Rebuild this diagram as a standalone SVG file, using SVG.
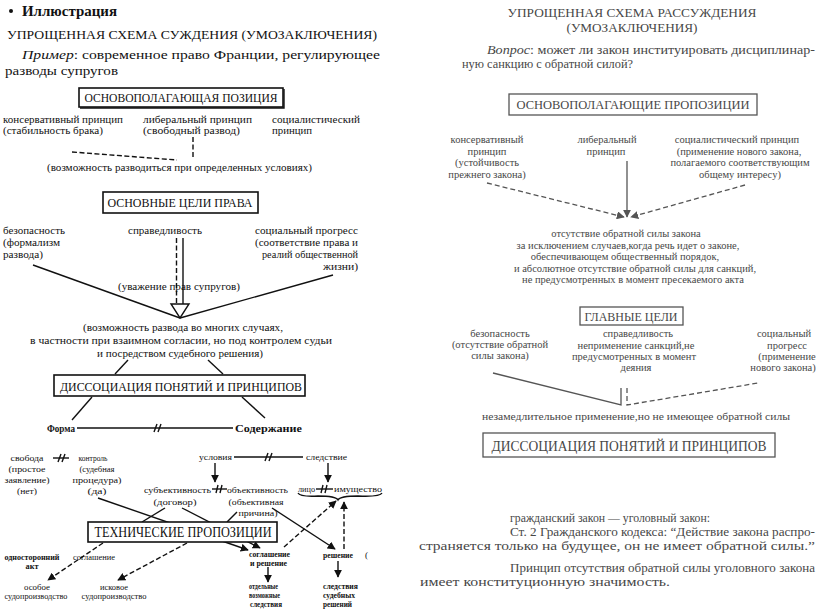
<svg xmlns="http://www.w3.org/2000/svg" width="821" height="613" viewBox="0 0 821 613" font-family="'Liberation Serif', 'Times New Roman', serif">
<defs>
<style>
text{font-family:'Liberation Serif','Times New Roman',serif;fill:#111}
.s{font-size:10px}
.xs{font-size:9px}
.b{font-weight:bold}
.r text{fill:#474747}
.rt{font-size:10.5px}
.c{text-anchor:middle}
.e{text-anchor:end}
.ln{stroke:#111;stroke-width:1.4;fill:none}
.dl{stroke:#111;stroke-width:1.4;fill:none;stroke-dasharray:5 2.5}
.rl{stroke:#555;stroke-width:1.3;fill:none}
.rd{stroke:#555;stroke-width:1.3;fill:none;stroke-dasharray:5 3}
.box{fill:#fff;stroke:#111;stroke-width:1.6}
.rbox{fill:#fff;stroke:#555;stroke-width:1.3}
</style>
<marker id="a" viewBox="0 0 10 10" refX="9" refY="5" markerWidth="8" markerHeight="8" markerUnits="userSpaceOnUse" orient="auto"><path d="M0,0 L10,5 L0,10 z" fill="#111"/></marker>
<marker id="ag" viewBox="0 0 10 10" refX="9" refY="5" markerWidth="8" markerHeight="8" markerUnits="userSpaceOnUse" orient="auto"><path d="M0,0 L10,5 L0,10 z" fill="#555"/></marker>
</defs>
<rect width="821" height="613" fill="#fff"/>

<!-- LEFT PANEL -->
<g id="left-header">
<circle cx="11" cy="11" r="2" fill="#111"/>
<text x="22" y="16" font-size="15" class="b" textLength="95" lengthAdjust="spacingAndGlyphs">Иллюстрация</text>
<text x="7" y="39" font-size="13" textLength="370" lengthAdjust="spacingAndGlyphs">УПРОЩЕННАЯ СХЕМА СУЖДЕНИЯ (УМОЗАКЛЮЧЕНИЯ)</text>
<text x="22" y="59" font-size="13" textLength="358" lengthAdjust="spacingAndGlyphs"><tspan font-style="italic">Пример</tspan>: современное право Франции, регулирующее</text>
<text x="5" y="75" font-size="13" textLength="113" lengthAdjust="spacingAndGlyphs">разводы супругов</text>
</g>

<g id="connectors-left">
<line class="dl" x1="72" y1="152" x2="177" y2="160"/>
<line class="dl" x1="193" y1="137" x2="193" y2="157"/>
<line class="ln" x1="33" y1="265" x2="180" y2="318"/>
<line class="ln" x1="333" y1="275" x2="180" y2="318"/>
<line class="dl" x1="176.5" y1="238" x2="176.5" y2="304"/>
<line class="ln" x1="183" y1="238" x2="183" y2="304"/>
<path class="ln" d="M171,304 L189,304 L180,318 Z" fill="#fff"/>
<line class="ln" x1="128" y1="360" x2="115" y2="374"/>
<line class="ln" x1="208" y1="360" x2="223" y2="374"/>
<line class="ln" x1="92" y1="397" x2="72" y2="420"/>
<line class="ln" x1="242" y1="397" x2="265" y2="418"/>
<line class="ln" x1="77" y1="428" x2="233" y2="428"/>
<path class="ln" d="M154,432 L157,424 M158,432 L161,424"/>
<line class="ln" x1="53" y1="458" x2="69" y2="458"/>
<path class="ln" d="M58,462 L61,454 M62,462 L65,454"/>
<line class="ln" x1="234" y1="457" x2="303" y2="457"/>
<path class="ln" d="M265,461 L268,453 M269,461 L272,453"/>
<line class="ln" x1="215" y1="463" x2="215" y2="482" marker-end="url(#a)"/>
<line class="ln" x1="328" y1="463" x2="328" y2="482" marker-end="url(#a)"/>
<line class="ln" x1="212" y1="489" x2="227" y2="489"/>
<path class="ln" d="M216,493 L218,485 M220,493 L222,485"/>
<line class="ln" x1="316" y1="489" x2="333" y2="489"/>
<path class="ln" d="M321,493 L323,485 M325,493 L327,485"/>
<path class="ln" stroke-width="1.1" d="M298,493 Q300,497 318,496 Q336,496 338,500 Q340,496 358,496 Q380,497 382,493"/>
<line class="ln" x1="98" y1="498" x2="248" y2="550" marker-end="url(#a)"/>
<line class="ln" x1="182" y1="508" x2="260" y2="548" marker-end="url(#a)"/>
<line class="ln" x1="165" y1="508" x2="142" y2="522"/>
<line class="ln" x1="237" y1="512" x2="227" y2="522"/>
<line class="dl" x1="103" y1="543" x2="48" y2="580" marker-end="url(#a)"/>
<line class="dl" x1="187" y1="543" x2="118" y2="580" marker-end="url(#a)"/>
<line class="ln" x1="272" y1="508" x2="335" y2="549" marker-end="url(#a)"/>
<line class="dl" x1="284" y1="547" x2="336" y2="501" marker-end="url(#a)"/>
<line class="dl" x1="344" y1="549" x2="344" y2="502" marker-end="url(#a)"/>
<line class="ln" x1="268" y1="567" x2="268" y2="582" marker-end="url(#a)"/>
<line class="ln" x1="338" y1="561" x2="338" y2="577" marker-end="url(#a)"/>
</g>

<g id="n-osn-pozicija">
<rect class="box" x="79" y="88" width="204" height="19"/>
<path class="ln" stroke-width="1.2" d="M284,89 L284,108 L80,108"/>
<text x="181" y="102" font-size="12" class="c" textLength="193" lengthAdjust="spacingAndGlyphs">ОСНОВОПОЛАГАЮЩАЯ ПОЗИЦИЯ</text>
</g>
<g id="n-konserv">
<text x="3" y="123" class="s" textLength="120" lengthAdjust="spacingAndGlyphs">консервативный принцип</text>
<text x="3" y="134" class="s" textLength="100" lengthAdjust="spacingAndGlyphs">(стабильность брака)</text>
</g>
<g id="n-liber">
<text x="143" y="123" class="s" textLength="109" lengthAdjust="spacingAndGlyphs">либеральный принцип</text>
<text x="143" y="134" class="s" textLength="97" lengthAdjust="spacingAndGlyphs">(свободный развод)</text>
</g>
<g id="n-social">
<text x="272" y="123" class="s" textLength="88" lengthAdjust="spacingAndGlyphs">социалистический</text>
<text x="272" y="134" class="s" textLength="40" lengthAdjust="spacingAndGlyphs">принцип</text>
</g>
<g id="n-vozm-razv">
<text x="47" y="171" class="s" textLength="265" lengthAdjust="spacingAndGlyphs">(возможность разводиться при определенных условиях)</text>
</g>
<g id="n-celi-prava">
<rect class="box" x="103" y="192" width="155" height="21" stroke-width="2"/>
<text x="180" y="207" font-size="13" class="c" textLength="145" lengthAdjust="spacingAndGlyphs">ОСНОВНЫЕ ЦЕЛИ ПРАВА</text>
</g>
<g id="n-bezop">
<text x="3" y="234" class="s" textLength="62" lengthAdjust="spacingAndGlyphs">безопасность</text>
<text x="3" y="246" class="s" textLength="57" lengthAdjust="spacingAndGlyphs">(формализм</text>
<text x="3" y="258" class="s" textLength="40" lengthAdjust="spacingAndGlyphs">развода)</text>
</g>
<g id="n-sprav">
<text x="128" y="234" class="s" textLength="74" lengthAdjust="spacingAndGlyphs">справедливость</text>
</g>
<g id="n-progress">
<text x="358" y="234" class="s e" textLength="103" lengthAdjust="spacingAndGlyphs">социальный прогресс</text>
<text x="358" y="246" class="s e" textLength="103" lengthAdjust="spacingAndGlyphs">(соответствие права и</text>
<text x="358" y="258" class="s e" textLength="96" lengthAdjust="spacingAndGlyphs">реалий общественной</text>
<text x="358" y="270" class="s e" textLength="35" lengthAdjust="spacingAndGlyphs">жизни)</text>
</g>
<g id="n-uvazh">
<text x="118" y="290" class="s" textLength="122" lengthAdjust="spacingAndGlyphs">(уважение прав супругов)</text>
</g>
<g id="n-vozm-mnog">
<text x="83" y="331" class="s" textLength="200" lengthAdjust="spacingAndGlyphs">(возможность развода во многих случаях,</text>
<text x="30" y="344" class="s" textLength="302" lengthAdjust="spacingAndGlyphs">в частности при взаимном согласии, но под контролем судьи</text>
<text x="97" y="357" class="s" textLength="166" lengthAdjust="spacingAndGlyphs">и посредством судебного решения)</text>
</g>
<g id="n-dissoc-left">
<rect class="box" x="54" y="375" width="251" height="21" stroke-width="2"/>
<text x="181" y="391" font-size="13.5" class="c" textLength="242" lengthAdjust="spacingAndGlyphs">ДИССОЦИАЦИЯ ПОНЯТИЙ И ПРИНЦИПОВ</text>
</g>
<g id="n-forma"><text x="47" y="432" class="s b" textLength="28" lengthAdjust="spacingAndGlyphs">Форма</text></g>
<g id="n-soderzh"><text x="235" y="432" class="s b" textLength="67" lengthAdjust="spacingAndGlyphs">Содержание</text></g>

<g id="n-svoboda">
<text x="27" y="461" class="xs c" textLength="33" lengthAdjust="spacingAndGlyphs">свобода</text>
<text x="27" y="472" class="xs c" textLength="37" lengthAdjust="spacingAndGlyphs">(простое</text>
<text x="27" y="483" class="xs c" textLength="45" lengthAdjust="spacingAndGlyphs">заявление)</text>
<text x="27" y="494" class="xs c" textLength="20" lengthAdjust="spacingAndGlyphs">(нет)</text>
</g>
<g id="n-kontrol">
<text x="93" y="461" class="xs c" textLength="29" lengthAdjust="spacingAndGlyphs">контроль</text>
<text x="97" y="472" class="xs c" textLength="35" lengthAdjust="spacingAndGlyphs">(судебная</text>
<text x="97" y="483" class="xs c" textLength="49" lengthAdjust="spacingAndGlyphs">процедура)</text>
<text x="97" y="494" class="xs c" textLength="19" lengthAdjust="spacingAndGlyphs">(да)</text>
</g>
<g id="n-usloviya"><text x="199" y="460" class="xs" textLength="33" lengthAdjust="spacingAndGlyphs">условия</text></g>
<g id="n-sledstvie"><text x="306" y="460" class="xs" textLength="41" lengthAdjust="spacingAndGlyphs">следствие</text></g>
<g id="n-subj">
<text x="144" y="493" class="xs" textLength="67" lengthAdjust="spacingAndGlyphs">субъективность</text>
<text x="175" y="505" class="xs c" textLength="43" lengthAdjust="spacingAndGlyphs">(договор)</text>
</g>
<g id="n-obj">
<text x="227" y="493" class="xs" textLength="61" lengthAdjust="spacingAndGlyphs">объективность</text>
<text x="256" y="505" class="xs c" textLength="55" lengthAdjust="spacingAndGlyphs">(объективная</text>
<text x="258" y="516" class="xs c" textLength="39" lengthAdjust="spacingAndGlyphs">причина)</text>
</g>
<g id="n-lico"><text x="298" y="492" class="xs" textLength="17" lengthAdjust="spacingAndGlyphs">лицо</text></g>
<g id="n-imushch"><text x="334" y="492" class="xs" textLength="48" lengthAdjust="spacingAndGlyphs">имущество</text></g>
<g id="n-tehn">
<rect class="box" x="88" y="522" width="189" height="20" stroke-width="2"/>
<text x="183" y="537" font-size="14" class="c" textLength="177" lengthAdjust="spacingAndGlyphs">ТЕХНИЧЕСКИЕ ПРОПОЗИЦИИ</text>
</g>
<g id="n-odnostor">
<text x="32" y="560" class="xs c b" textLength="55" lengthAdjust="spacingAndGlyphs">односторонний</text>
<text x="32" y="569" class="xs c b" textLength="13" lengthAdjust="spacingAndGlyphs">акт</text>
</g>
<g id="n-soglash-l"><text x="73" y="560" class="xs" textLength="42" lengthAdjust="spacingAndGlyphs">соглашение</text></g>
<g id="n-osoboe">
<text x="37" y="590" class="xs c" textLength="26" lengthAdjust="spacingAndGlyphs">особое</text>
<text x="36" y="599" class="xs c" textLength="63" lengthAdjust="spacingAndGlyphs">судопроизводство</text>
</g>
<g id="n-iskovoe">
<text x="114" y="590" class="xs c" textLength="28" lengthAdjust="spacingAndGlyphs">исковое</text>
<text x="114" y="599" class="xs c" textLength="65" lengthAdjust="spacingAndGlyphs">судопроизводство</text>
</g>
<g id="n-soglash-r">
<text x="249" y="557" class="xs b" textLength="41" lengthAdjust="spacingAndGlyphs">соглашение</text>
<text x="250" y="566" class="xs b" textLength="37" lengthAdjust="spacingAndGlyphs">и решение</text>
</g>
<g id="n-otdelnye">
<text x="249" y="589" class="xs b" textLength="29" lengthAdjust="spacingAndGlyphs">отдельные</text>
<text x="249" y="598" class="xs b" textLength="31" lengthAdjust="spacingAndGlyphs">возможные</text>
<text x="250" y="607" class="xs b" textLength="32" lengthAdjust="spacingAndGlyphs">следствия</text>
</g>
<g id="n-reshenie">
<text x="323" y="558" class="xs b" textLength="30" lengthAdjust="spacingAndGlyphs">решение</text>
<text x="365" y="558" class="xs">(</text>
</g>
<g id="n-sled-sud">
<text x="323" y="589" class="xs b" textLength="35" lengthAdjust="spacingAndGlyphs">следствия</text>
<text x="323" y="598" class="xs b" textLength="32" lengthAdjust="spacingAndGlyphs">судебных</text>
<text x="323" y="607" class="xs b" textLength="29" lengthAdjust="spacingAndGlyphs">решений</text>
</g>

<!-- RIGHT PANEL -->
<g class="r">
<g id="right-header">
<text x="632" y="17" font-size="13" class="c" textLength="249" lengthAdjust="spacingAndGlyphs">УПРОЩЕННАЯ СХЕМА РАССУЖДЕНИЯ</text>
<text x="632" y="32" font-size="13" class="c" textLength="131" lengthAdjust="spacingAndGlyphs">(УМОЗАКЛЮЧЕНИЯ)</text>
<text x="487" y="54" font-size="12.5" textLength="328" lengthAdjust="spacingAndGlyphs"><tspan font-style="italic">Вопрос</tspan>: может ли закон институировать дисциплинар-</text>
<text x="462" y="68" font-size="12.5" textLength="171" lengthAdjust="spacingAndGlyphs">ную санкцию с обратной силой?</text>
</g>

<g id="connectors-right">
<line class="rd" x1="487" y1="183" x2="624" y2="217" marker-end="url(#ag)"/>
<line class="rl" x1="627" y1="161" x2="627" y2="217" marker-end="url(#ag)"/>
<line class="rd" x1="745" y1="185" x2="631" y2="217" marker-end="url(#ag)"/>
<path class="rl" d="M493,373 L621,405 L621,388"/>
<path class="rd" d="M627,388 L627,405 L758,383"/>
</g>

<g id="r-osn-prop">
<rect class="rbox" x="509" y="94" width="248" height="21"/>
<text x="633" y="109" font-size="13" class="c" textLength="233" lengthAdjust="spacingAndGlyphs">ОСНОВОПОЛАГАЮЩИЕ ПРОПОЗИЦИИ</text>
</g>
<g id="r-konserv">
<text x="487" y="143" class="rt c">консервативный</text>
<text x="487" y="155" class="rt c">принцип</text>
<text x="487" y="166" class="rt c">(устойчивость</text>
<text x="487" y="178" class="rt c">прежнего закона)</text>
</g>
<g id="r-liber">
<text x="607" y="143" class="rt c">либеральный</text>
<text x="606" y="155" class="rt c">принцип</text>
</g>
<g id="r-social">
<text x="737" y="143" class="rt c">социалистический принцип</text>
<text x="739" y="155" class="rt c">(применение нового закона,</text>
<text x="740" y="166" class="rt c">полагаемого соответствующим</text>
<text x="740" y="178" class="rt c">общему интересу)</text>
</g>
<g id="r-otsutstvie">
<text x="626" y="237" class="rt c">отсутствие обратной силы закона</text>
<text x="628" y="249" class="rt c">за исключением случаев,когда речь идет о законе,</text>
<text x="625" y="260" class="rt c">обеспечивающем общественный порядок,</text>
<text x="635" y="272" class="rt c">и абсолютное отсутствие обратной силы для санкций,</text>
<text x="633" y="283" class="rt c">не предусмотренных в момент пресекаемого акта</text>
</g>
<g id="r-glavnye">
<rect class="rbox" x="580" y="307" width="103" height="18"/>
<text x="631" y="321" font-size="12" class="c" textLength="93" lengthAdjust="spacingAndGlyphs">ГЛАВНЫЕ ЦЕЛИ</text>
</g>
<g id="r-bezop">
<text x="500" y="337" class="rt c">безопасность</text>
<text x="500" y="348" class="rt c">(отсутствие обратной</text>
<text x="500" y="359" class="rt c">силы закона)</text>
</g>
<g id="r-sprav">
<text x="638" y="337" class="rt c">справедливость</text>
<text x="636" y="349" class="rt c">неприменение санкций,не</text>
<text x="634" y="360" class="rt c">предусмотренных в момент</text>
<text x="636" y="371" class="rt c">деяния</text>
</g>
<g id="r-progress">
<text x="784" y="337" class="rt c">социальный</text>
<text x="787" y="349" class="rt c">прогресс</text>
<text x="787" y="360" class="rt c">(применение</text>
<text x="783" y="371" class="rt c">нового закона)</text>
</g>
<g id="r-nezamed">
<text x="482" y="420" class="rt" textLength="308" lengthAdjust="spacingAndGlyphs">незамедлительное применение,но не имеющее обратной силы</text>
</g>
<g id="r-dissoc">
<rect class="rbox" x="483" y="433" width="292" height="24"/>
<text x="629" y="451" font-size="15.5" class="c" textLength="275" lengthAdjust="spacingAndGlyphs">ДИССОЦИАЦИЯ ПОНЯТИЙ И ПРИНЦИПОВ</text>
</g>
<g id="r-text">
<text x="510" y="522" font-size="13" textLength="200" lengthAdjust="spacingAndGlyphs">гражданский закон — уголовный закон:</text>
<text x="510" y="536" font-size="13" textLength="305" lengthAdjust="spacingAndGlyphs">Ст. 2 Гражданского кодекса: “Действие закона распро-</text>
<text x="419" y="550" font-size="13" textLength="396" lengthAdjust="spacingAndGlyphs">страняется только на будущее, он не имеет обратной силы.”</text>
<text x="510" y="572" font-size="13" textLength="305" lengthAdjust="spacingAndGlyphs">Принцип отсутствия обратной силы уголовного закона</text>
<text x="420" y="586" font-size="13" textLength="250" lengthAdjust="spacingAndGlyphs">имеет конституционную значимость.</text>
</g>
</g>
</svg>
